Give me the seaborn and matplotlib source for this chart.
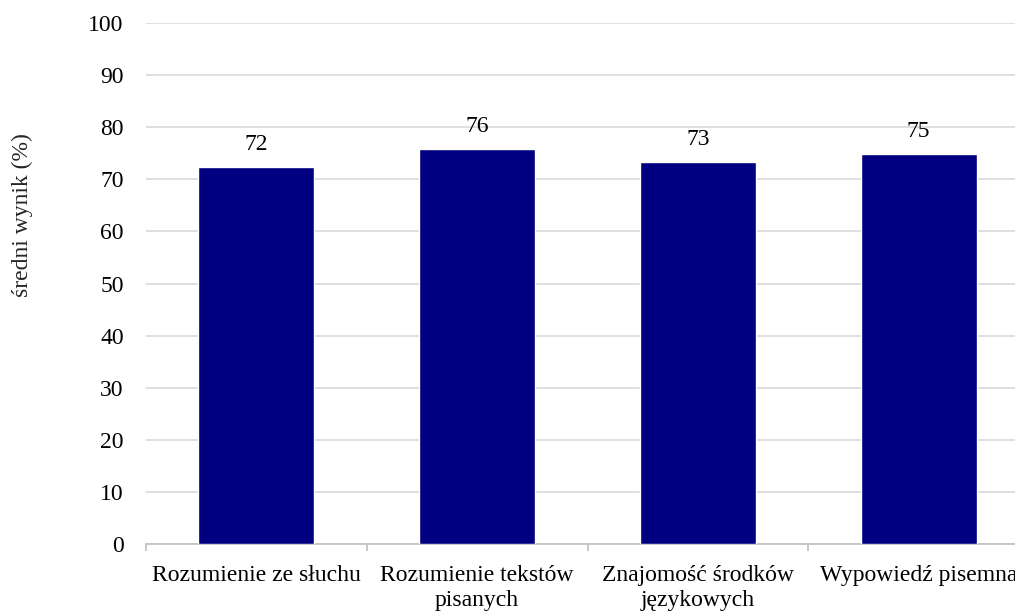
import matplotlib
matplotlib.use("Agg")
import matplotlib.pyplot as plt
import seaborn as sns
import pandas as pd
from matplotlib.ticker import FixedLocator

categories = ["Rozumienie ze słuchu", "Rozumienie tekstów\npisanych",
              "Znajomość środków\njęzykowych", "Wypowiedź pisemna"]
values = [72.3, 75.8, 73.3, 74.8]
labels = ["72", "76", "73", "75"]
yticks = [0, 10, 20, 30, 40, 50, 60, 70, 80, 90, 100]

sns.set_theme(style="white")
plt.rcParams['font.family'] = ['Liberation Serif', 'DejaVu Serif']

df = pd.DataFrame({"cat": categories, "val": values})

fig = plt.figure(figsize=(10.15, 6.11), dpi=100)
ax = fig.add_axes([146/1015, 67/611, (1029-146)/1015, (544-23)/611])

sns.barplot(data=df, x="cat", y="val", color="#000080", width=0.526,
            saturation=1, ax=ax, zorder=3)

ax.set_xlim(-0.5, 3.5)
ax.set_ylim(0, 100)
ax.set_yticks(yticks)
ax.yaxis.grid(True, color="#d9d9d9", linewidth=1.2, zorder=0)
ax.set_axisbelow(True)
for s in ["left", "top", "right"]:
    ax.spines[s].set_visible(False)
ax.spines["bottom"].set_color("#bfbfbf")
ax.spines["bottom"].set_linewidth(1.2)

ax.tick_params(axis="y", length=0, pad=16, labelsize=17, labelcolor="black")
ax.tick_params(axis="x", which="major", length=0, pad=15, labelsize=17, labelcolor="black")
ax.xaxis.set_minor_locator(FixedLocator([-0.5, 0.5, 1.5, 2.5, 3.5]))
ax.tick_params(axis="x", which="minor", length=5, color="#bfbfbf", width=1.2, bottom=True)
ax.set_xlabel("")
ax.set_ylabel("")
for t in ax.get_xticklabels():
    t.set_linespacing(1.25)

ax.bar_label(ax.containers[0], labels=labels, padding=9, fontsize=17, color="black")

fig.text(22/1015, 1 - 215/611, "średni wynik (%)", rotation=90, fontsize=17,
         ha="center", va="center")

fig.savefig("out.png", dpi=100)
